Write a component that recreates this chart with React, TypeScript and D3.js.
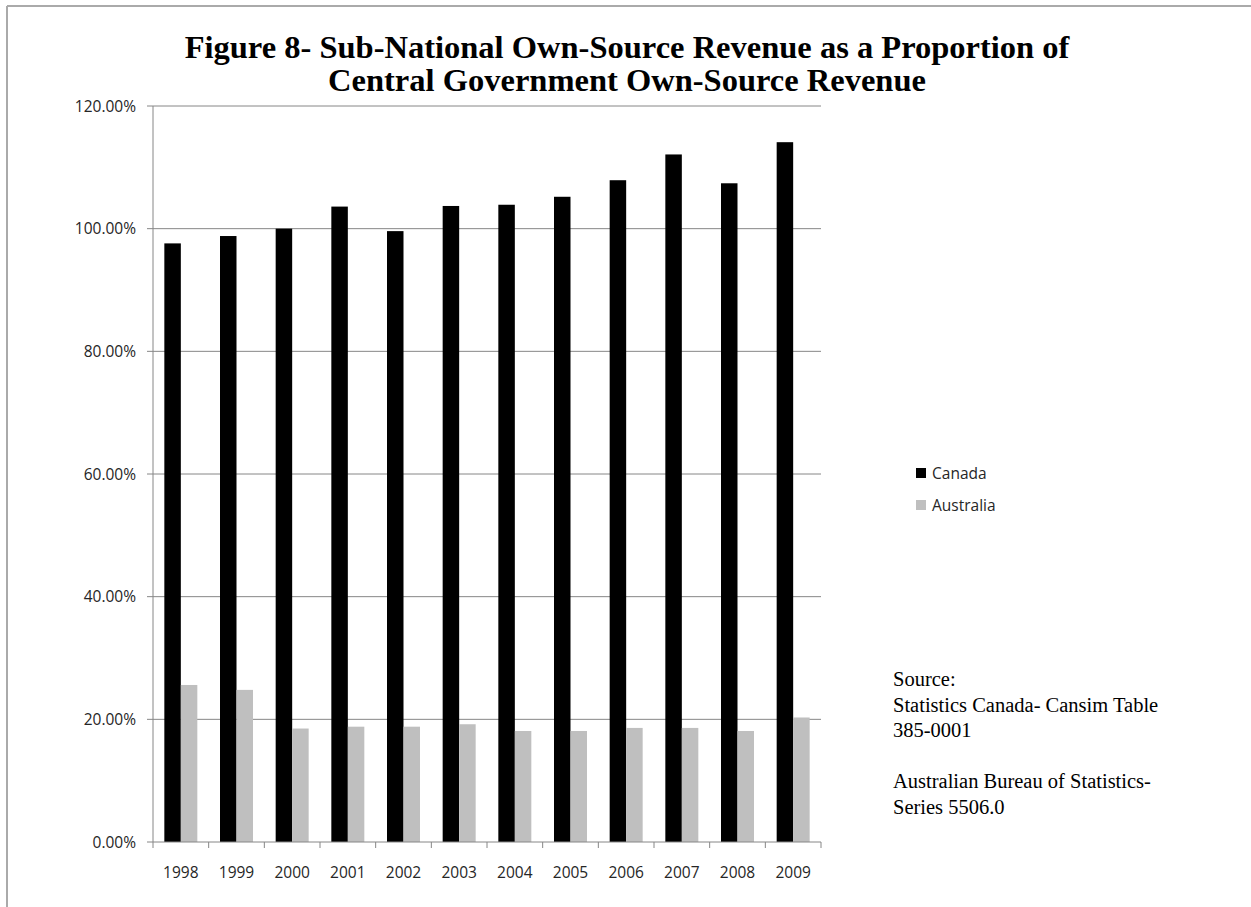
import React from "react";
import * as d3 from "d3";

const years = ["1998","1999","2000","2001","2002","2003","2004","2005","2006","2007","2008","2009"];
const canada = [97.6, 98.8, 100.0, 103.6, 99.6, 103.7, 103.9, 105.2, 107.9, 112.1, 107.4, 114.1];
const australia = [25.6, 24.8, 18.5, 18.8, 18.8, 19.2, 18.1, 18.1, 18.6, 18.6, 18.1, 20.3];
const yTicks = [0, 20, 40, 60, 80, 100, 120];
const seriesNames = ["Canada", "Australia"];
const seriesColors = ["#000000", "#bfbfbf"];
const titleLines = [
  "Figure 8- Sub-National Own-Source Revenue as a Proportion of",
  "Central Government Own-Source Revenue",
];
const sourceLines = [
  "Source:",
  "Statistics Canada- Cansim Table",
  "385-0001",
  "",
  "Australian Bureau of Statistics-",
  "Series 5506.0",
];

const W = 1251, H = 907;
const left = 153, right = 821, top = 106, bottom = 842;
const axisColor = "#868686";
const labelFont = "'Open Sans', sans-serif";
const labelSize = 15.5;

export default function App() {
  const x0 = d3.scaleBand<string>().domain(years).range([left, right]).paddingInner(0).paddingOuter(0);
  const x1 = d3.scaleBand<string>().domain(seriesNames).range([0, x0.bandwidth()]).paddingInner(0).paddingOuter(0.687);
  const y = d3.scaleLinear().domain([0, 120]).range([bottom, top]);
  const series = [canada, australia];
  const boundaries = years.map((yr) => x0(yr)!).concat([right]);

  return (
    <svg width={W} height={H} style={{ position: "absolute", left: 0, top: 0, background: "#fff" }}>
      <rect x={0} y={0} width={W} height={H} fill="#fff" />
      {/* frame lines */}
      <line x1={7} y1={6} x2={W} y2={6} stroke="#aaaaaa" strokeWidth={2} />
      <line x1={7} y1={6} x2={7} y2={H} stroke="#aaaaaa" strokeWidth={2} />

      {/* title */}
      {titleLines.map((t, i) => (
        <text key={i} x={627} y={58 + i * 33} textAnchor="middle"
          fontFamily="'Liberation Serif', 'Times New Roman', serif" fontWeight="bold" fontSize={32.5} fill="#000">
          {t}
        </text>
      ))}

      {/* gridlines */}
      {yTicks.filter((t) => t > 0).map((t) => (
        <line key={t} x1={left} x2={right} y1={y(t)} y2={y(t)} stroke={axisColor} strokeWidth={1} />
      ))}

      {/* bars */}
      {years.map((yr, i) => (
        <g key={yr}>
          {series.map((s, j) => (
            <rect key={j} x={x0(yr)! + x1(seriesNames[j])!} y={y(s[i])} width={x1.bandwidth()}
              height={bottom - y(s[i])} fill={seriesColors[j]} />
          ))}
        </g>
      ))}

      {/* y axis */}
      <line x1={left} x2={left} y1={top} y2={bottom} stroke={axisColor} strokeWidth={1} />
      {yTicks.map((t) => (
        <g key={t}>
          <line x1={left - 6} x2={left} y1={y(t)} y2={y(t)} stroke={axisColor} strokeWidth={1} />
          <text x={136} y={y(t) + 5.5} textAnchor="end" fontFamily={labelFont} fontSize={labelSize} fill="#262626">
            {d3.format(".2f")(t) + "%"}
          </text>
        </g>
      ))}

      {/* x axis */}
      <line x1={left} x2={right} y1={bottom} y2={bottom} stroke={axisColor} strokeWidth={1} />
      {boundaries.map((bx, i) => (
        <line key={i} x1={bx} x2={bx} y1={bottom} y2={bottom + 6} stroke={axisColor} strokeWidth={1} />
      ))}
      {years.map((yr) => (
        <text key={yr} x={x0(yr)! + x0.bandwidth() / 2} y={878} textAnchor="middle"
          fontFamily={labelFont} fontSize={labelSize} fill="#262626">
          {yr}
        </text>
      ))}

      {/* legend */}
      {seriesNames.map((n, i) => (
        <g key={n} transform={`translate(916, ${468 + i * 32})`}>
          <rect x={0} y={0} width={10} height={10} fill={seriesColors[i]} />
          <text x={16} y={10.5} fontFamily={labelFont} fontSize={labelSize} fill="#262626">{n}</text>
        </g>
      ))}

      {/* source */}
      {sourceLines.map((t, i) => (
        <text key={i} x={893} y={686 + i * 25.6} fontFamily="'Liberation Serif', 'Times New Roman', serif"
          fontSize={20.5} fill="#000">
          {t}
        </text>
      ))}
    </svg>
  );
}
